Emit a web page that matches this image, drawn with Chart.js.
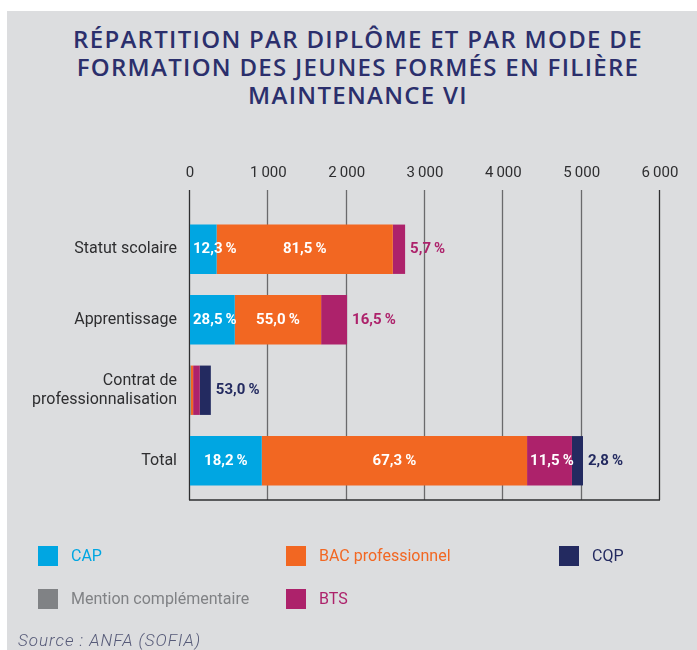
<!DOCTYPE html>
<html>
<head>
<meta charset="utf-8">
<script src="https://cdn.jsdelivr.net/npm/chart.js@4/dist/chart.umd.min.js"></script>
<style>
html, body { margin: 0; padding: 0; background: #fff; }
body { width: 697px; height: 650px; position: relative; overflow: hidden; font-family: Roboto, sans-serif; }
.panel { position: absolute; left: 7px; top: 11px; right: 0; bottom: 0; background: #dcdddf; }
.title { position: absolute; left: 0; top: 24.5px; width: 716px; text-align: center; color: #2b2f6c;
  font-family: 'Open Sans', sans-serif; font-weight: 600; font-size: 24px; line-height: 28.3px; letter-spacing: 1.3px; }
.wrap { position: absolute; left: 0; top: 0; width: 697px; height: 650px; }
.legend { position: absolute; left: 38px; top: 545px; display: grid; grid-auto-flow: column;
  grid-template-rows: 21px 21px; row-gap: 22px; grid-template-columns: 248px 273px auto; }
.legend div { display: flex; align-items: center; font-size: 16px; white-space: nowrap; }
.legend span { width: 20px; height: 20px; margin-right: 13px; display: inline-block; }
.source { position: absolute; left: 18px; top: 630px; line-height: 20px; font-style: italic; font-weight: 300;
  font-size: 17px; letter-spacing: 1px; color: #565a78; }
</style>
</head>
<body>
<div class="panel"></div>
<div class="title"></div>
<div class="wrap"><canvas id="myChart" width="697" height="650"></canvas></div>
<div class="legend"></div>
<div class="source">Source : ANFA (SOFIA)</div>
<script>
var categories = ['Statut scolaire', 'Apprentissage', ['Contrat de', 'professionnalisation'], 'Total'];

var capValues = [340, 571, 5, 916];
var mcValues = [0, 0, 0, 0];
var bacValues = [2249, 1103, 35, 3387];
var btsValues = [157, 331, 85, 573];
var cqpValues = [0, 0, 141, 141];

// pourcentages affichés
var capPct = [12.3, 28.5, null, 18.2];
var mcPct = [null, null, null, null];
var bacPct = [81.5, 55.0, null, 67.3];
var btsPct = [5.7, 16.5, null, 11.5];
var cqpPct = [null, null, 53.0, 2.8];

var titleLines = ['RÉPARTITION PAR DIPLÔME ET PAR MODE DE', 'FORMATION DES JEUNES FORMÉS EN FILIÈRE', 'MAINTENANCE VI'];

document.querySelector('.title').innerHTML = titleLines.join('<br>');

function fmtThousands(v) {
    return String(v).replace(/\B(?=(\d{3})+(?!\d))/g, '\u2009');
}

function fmtPct(p) {
    return p.toFixed(1).replace('.', ',') + '\u2009%';
}

const gridLines = {
    id: 'gridLines',
    beforeDatasetsDraw(chart) {
        var x = chart.scales.x, area = chart.chartArea, ctx = chart.ctx;
        ctx.save();
        ctx.lineWidth = 1.3;
        x.ticks.forEach(function(t, i) {
            var px = Math.round(x.getPixelForValue(t.value)) - 0.5;
            ctx.strokeStyle = (i === 0 || i === x.ticks.length - 1) ? '#2e2e30' : '#6a6a6c';
            ctx.beginPath();
            ctx.moveTo(px, area.top - 24);
            ctx.lineTo(px, area.bottom + 4);
            ctx.stroke();
        });
        ctx.strokeStyle = '#2e2e30';
        ctx.beginPath();
        ctx.moveTo(Math.round(area.left) - 1, area.bottom + 4);
        ctx.lineTo(Math.round(area.right), area.bottom + 4);
        ctx.stroke();
        ctx.restore();
    }
};

const pctLabels = {
    id: 'pctLabels',
    afterDatasetsDraw(chart) {
        var ctx = chart.ctx;
        var sets = chart.data.datasets;
        ctx.save();
        ctx.font = 'bold 15px Roboto';
        ctx.textBaseline = 'middle';
        sets.forEach(function(ds, di) {
            var meta = chart.getDatasetMeta(di);
            meta.data.forEach(function(bar, j) {
                var p = ds.pct[j];
                if (p == null) return;
                var txt = fmtPct(p);
                var w = ctx.measureText(txt).width;
                var left = Math.min(bar.base, bar.x), right = Math.max(bar.base, bar.x);
                var last = sets.every(function(d, k) { return k <= di || !d.data[j]; });
                if (last && right - left < w + 6) {
                    ctx.fillStyle = ds.backgroundColor;
                    ctx.textAlign = 'left';
                    ctx.fillText(txt, right + 5, bar.y);
                } else {
                    ctx.fillStyle = '#fff';
                    ctx.textAlign = 'center';
                    ctx.fillText(txt, Math.max((left + right) / 2, left + 3 + w / 2), bar.y);
                }
            });
        });
        ctx.restore();
    }
};

Chart.defaults.font.family = 'Roboto';

const ctx = document.getElementById('myChart').getContext('2d');

const myChart = new Chart(ctx, {
    type: 'bar',
    data: {
        labels: categories,
        datasets: [
            { label: 'CAP', data: capValues, pct: capPct, backgroundColor: '#00a6e2' },
            { label: 'Mention complémentaire', data: mcValues, pct: mcPct, backgroundColor: '#808285' },
            { label: 'BAC professionnel', data: bacValues, pct: bacPct, backgroundColor: '#f26722' },
            { label: 'BTS', data: btsValues, pct: btsPct, backgroundColor: '#ad226b' },
            { label: 'CQP', data: cqpValues, pct: cqpPct, backgroundColor: '#232a60' }
        ]
    },
    options: {
        indexAxis: 'y',
        responsive: false,
        animation: false,
        events: [],
        datasets: {
            bar: { barPercentage: 0.70, categoryPercentage: 1, borderWidth: 0, borderSkipped: false }
        },
        layout: { padding: { left: 0, right: 37, top: 0, bottom: 154 } },
        scales: {
            x: {
                position: 'top',
                stacked: true,
                min: 0,
                max: 6000,
                grid: { display: false, drawTicks: true, tickLength: 28 },
                border: { display: false },
                ticks: {
                    stepSize: 1000,
                    color: '#2e2e30',
                    font: { size: 15 },
                    padding: 4,
                    maxRotation: 0,
                    callback: function(v) { return fmtThousands(v); }
                },
                afterFit: function(s) { s.height = 214; }
            },
            y: {
                stacked: true,
                grid: { display: false, drawTicks: false },
                border: { display: false },
                ticks: {
                    color: '#2e2e30',
                    font: { size: 16, lineHeight: 1.2 },
                    padding: 13
                },
                afterFit: function(s) { s.width = 190; }
            }
        },
        plugins: {
            legend: { display: false },
            tooltip: { enabled: false },
            title: { display: false }
        }
    },
    plugins: [gridLines, pctLabels]
});

var text = [];
myChart.data.datasets.forEach(function(ds) {
    text.push('<div style="color:' + ds.backgroundColor + '"><span style="background-color:' + ds.backgroundColor + '"></span>' + ds.label + '</div>');
});
document.querySelector('.legend').innerHTML = text.join('');
</script>
</body>
</html>
